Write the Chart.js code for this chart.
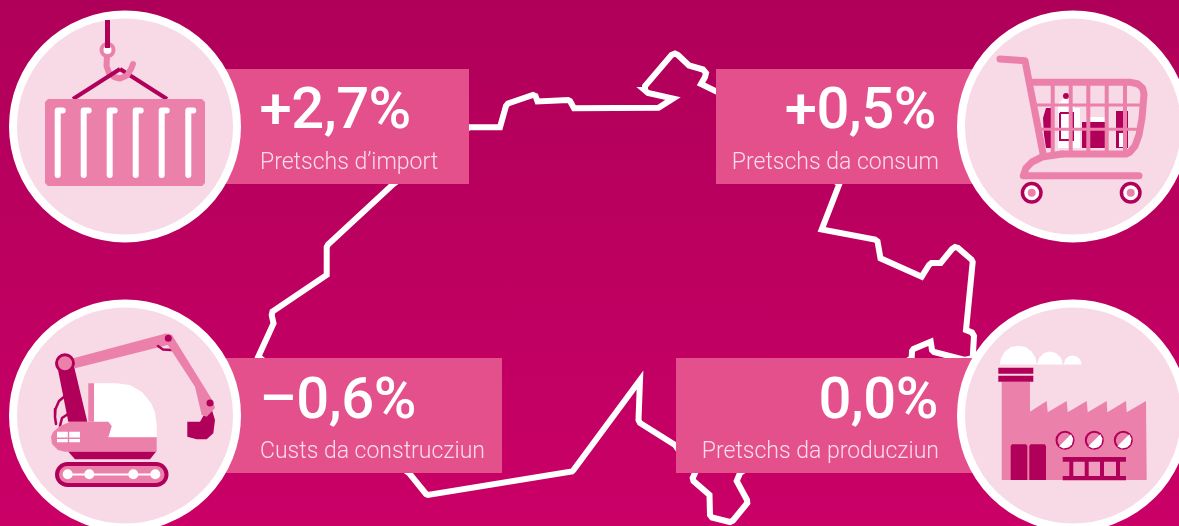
<!DOCTYPE html>
<html>
<head>
<meta charset="utf-8">
<title>Pretschs</title>
<script src="https://cdn.jsdelivr.net/npm/chart.js@4"></script>
<style>
  html, body { margin: 0; padding: 0; overflow: hidden; }
  body { width: 1179px; height: 526px; background: linear-gradient(180deg, #af0059 0%, #ca0067 100%); }
  canvas { display: block; }
</style>
</head>
<body>
<canvas id="myChart" width="1179" height="526"></canvas>
<script>
const valueLabels = ["+2,7%", "+0,5%", "\u20130,6%", "0,0%"];
const categoryLabels = ["Pretschs d\u2019import", "Pretschs da consum", "Custs da construcziun", "Pretschs da producziun"];

// map outline, it runs on under the boxes
const outlinePoints = [
  [469, 127.3], [500, 127.3], [506, 106], [508, 103.5], [533, 95], [535.5, 96], [537.5, 101.5], [568, 100], [570, 101], [574, 108.3],
  [658.5, 107.7], [673, 98.5], [648, 93], [644.5, 90], [645, 86], [671.5, 55], [675, 53.5], [678, 55], [689, 65.5],
  [703, 69.5], [706, 73], [705, 77], [701, 84], [717, 91.7], [839.3, 184], [821.7, 229.5], [875, 239.5], [877.5, 241.5],
  [880.5, 258.3], [921.7, 276.7], [929, 265], [931.5, 263], [940.7, 263], [952, 249], [955, 247], [958, 248], [971.5, 259.5], [972.7, 262],
  [966, 330], [972, 332.5], [974, 336], [972.7, 358], [965, 360], [934, 352], [932, 350], [930.7, 341.7], [913.5, 349], [912, 351], [911.7, 358],
  [740, 473], [736.7, 481], [747, 500], [747.3, 503], [733, 520.5], [730, 522], [712, 517.5], [710, 515], [709.5, 495], [693.5, 481], [692.7, 478], [695, 473],
  [675, 445], [640, 423], [638.5, 420], [640, 380], [573.5, 470], [572, 471.5], [428, 495], [426, 494], [409.3, 473.3],
  [258.3, 356.7], [273.5, 323.5], [271.7, 315], [272.5, 311.5], [326.7, 275], [326.7, 247], [328, 244.5], [393.3, 184], [469, 127.3]
];

const boxTL = [[225, 69], [469, 69], [469, 184], [225, 184]];
const boxTR = [[716, 69], [990, 69], [990, 184], [716, 184]];
const boxBL = [[225, 358], [502, 358], [502, 473], [225, 473]];
const boxBR = [[676, 358], [990, 358], [990, 473], [676, 473]];
const circleCenters = [[125, 126.5], [1073, 126.5], [125, 415.5], [1073, 415.5]];

// container
const hookCable = [[107.5, 20], [107.5, 47]];
const ropeRight = [[120, 69], [167, 99]];
const ropeLeft = [[73, 99], [120, 69]];
const hookCurve = [[107, 56], [106.5, 66], [109, 73], [114, 77], [120, 78.5], [127, 75.5], [131, 69], [133, 64]];
const containerBody = [[48, 99], [202, 99], [205, 102], [205, 183], [202, 186], [48, 186], [45, 183], [45, 102]];
const containerSlots = [57.7, 83.7, 109.7, 135.7, 161.7, 188.3];

// cart
const cartHandle = [[1000, 59], [1025, 60.7], [1043.3, 155]];
const cartBasket = [[1031.7, 82.3], [1131, 82.3], [1138, 84], [1142.5, 88], [1144, 94], [1142, 118], [1139, 135], [1135, 146], [1130, 152], [1126, 154], [1062, 154]];
const cartBase = [[1139, 175.7], [1023.3, 175.7], [1026, 168], [1032, 162], [1042, 157], [1062, 154]];
const cartMeshX = [1052.7, 1070.7, 1088.3, 1106.7, 1125];
const cartMeshY = [105, 129.3];
const cartMeshEnds = [[1036, 1143], [1040, 1141]];
const cartWheels = [[1031.7, 192.7], [1130.7, 192.7]];
const goodsDark = [
  [[1046, 108], [1052, 108], [1052, 148], [1046, 148], [1044, 135], [1043, 118]],
  [[1082, 122], [1105, 122], [1105, 148], [1082, 148]],
  [[1116, 111], [1128, 111], [1128, 148], [1116, 148]]
];
const goodsWhite = [
  [[1058, 104], [1064, 98], [1070, 98], [1075, 108], [1080, 108], [1080, 148], [1058, 148]],
  [[1086, 117], [1105, 117], [1105, 122], [1086, 122]],
  [[1119, 133], [1125, 133], [1125, 147], [1119, 147]]
];
const bottleLabel = [[1060, 113], [1073, 113], [1073, 140], [1060, 140], [1060, 113]];
const bottleCap = [[1066, 96]];

// excavator
const boomArm = [[73.3, 358.3], [166.7, 333.3], [171.7, 344], [75, 368.3]];
const stickArm = [[165, 336.7], [168, 333.5], [172, 335], [213.3, 401.7], [215, 408], [206.7, 416.7], [201.7, 415], [195, 386.7], [166.7, 343.3]];
const elbowArc = [[158, 346], [163, 349.5], [171.5, 350]];
const bucketShape = [[187.3, 421.7], [200, 421.7], [203.3, 416], [211.7, 409.3], [215, 420], [213.3, 433.3], [206.7, 439.3], [196.7, 439.3], [187.3, 436.7]];
const mastShape = [[56.7, 363.3], [73.3, 363.3], [87.3, 421.7], [68.3, 421.7]];
const hoseOuter = [[65, 396], [59, 401], [55.5, 409], [55, 417], [56, 424]];
const hoseInner = [[68, 414], [62, 418], [60, 426]];
const cabPost = [[88.3, 383.3], [94, 383.3], [94, 421.7], [88.3, 421.7]];
const cabShape = [[94, 383.3], [116.7, 383.3], [130, 385], [142, 392], [151, 403], [155, 412], [156.7, 425], [156.7, 437.3], [108.3, 437.3], [111.7, 426.7], [108, 421.7], [94, 421.7]];
const bodyShape = [[70, 422], [108.3, 421.7], [111.7, 426], [108.3, 437.3], [156.7, 437.3], [156.7, 451.7], [65, 451.7], [58, 450], [52, 444], [51, 437], [53, 432], [60, 426]];
const bodyWindows = [
  [[57, 431.7], [67.8, 431.7], [67.8, 437.4], [57, 437.4]],
  [[69.2, 431.7], [80, 431.7], [80, 437.4], [69.2, 437.4]],
  [[57, 439], [67.8, 439], [67.8, 442.3], [57, 442.3]],
  [[69.2, 439], [80, 439], [80, 442.3], [69.2, 442.3]]
];
const baseShape = [[68.3, 451.7], [156, 451.7], [150, 459.3], [75, 459.3]];
const trackLine = [[67.5, 474.5], [156, 474.5]];
const trackRollers = [[67.7, 474.3], [89.3, 474.3], [133.3, 474.3], [155.3, 474.3]];
const boomPins = [[168.3, 338.3], [210, 403]];

// factory
const factoryShape = [
  [1001.7, 381.7], [1030, 381.7], [1030, 411.7], [1046.7, 401], [1047.7, 412.3], [1066.7, 401], [1067.7, 412.3], [1086.7, 401], [1087.7, 412.3],
  [1106.7, 401], [1107.3, 412.3], [1126, 401], [1126.7, 412.3], [1146, 401], [1146.7, 480], [1001.7, 480]
];
const chimneyRings = [
  [[998.3, 367.7], [1033.3, 367.7], [1033.3, 373.7], [998.3, 373.7]],
  [[998.3, 375.7], [1033.3, 375.7], [1033.3, 381.7], [998.3, 381.7]]
];
const clouds = [
  [[999.8, 364.5], [1001, 358], [1005, 351.5], [1011, 347], [1018.3, 345.8], [1025.5, 347], [1031.6, 351.5], [1035.6, 358], [1036.8, 364.5]],
  [[1037, 364.5], [1039, 358], [1044, 353], [1050, 351.5], [1056, 353], [1061, 358], [1063, 364.5]],
  [[1063.7, 364.5], [1065.5, 359], [1069, 356.2], [1072.7, 355.5], [1076.4, 356.2], [1080, 359], [1081.7, 364.5]]
];
const factoryDoors = [
  [[1012, 444.3], [1026, 444.3], [1027.3, 446], [1027.3, 480], [1010.7, 480], [1010.7, 446]],
  [[1030.6, 444.3], [1044.7, 444.3], [1046, 446], [1046, 480], [1029.3, 480], [1029.3, 446]]
];
const portholes = [[1065, 440.3], [1094.3, 440.3], [1123.3, 440.3]];
const portholeWedge = [[6, -6], [8.2, -1.5], [7, 4], [4, 7], [-1.5, 8.2], [-6, 6]];
const ladderCells = [[1070, 461], [1120, 461], [1120, 476], [1070, 476]];
const ladderBars = [
  [[1062.7, 457], [1126, 457], [1126, 461.7], [1062.7, 461.7]],
  [[1062.7, 476], [1126, 476], [1126, 480.3], [1062.7, 480.3]],
  [[1069.3, 461], [1073.3, 461], [1073.3, 476], [1069.3, 476]],
  [[1084.7, 461], [1088.7, 461], [1088.7, 476], [1084.7, 476]],
  [[1100, 461], [1104, 461], [1104, 476], [1100, 476]],
  [[1116, 461], [1120, 461], [1120, 476], [1116, 476]]
];

const labelAnchors = [
  { x: 259.5, xLabel: 260, y: 128.3, yLabel: 169, align: "left" },
  { x: 936, xLabel: 939, y: 128.3, yLabel: 169, align: "right" },
  { x: 259.5, xLabel: 260, y: 418, yLabel: 457.8, align: "left" },
  { x: 938, xLabel: 939, y: 418, yLabel: 457.8, align: "right" }
];

const WHITE = "#ffffff";
const DARK = "#b0005a";
const PINK = "#eb80ab";
const BOX = "#e4508c";
const DISC = "#f8d9e6";

const datasets = [];

function toXY(points) {
  return points.map((p) => ({ x: p[0], y: p[1] }));
}

function addDataset(points, style) {
  datasets.push({
    data: toXY(points),
    showLine: false,
    pointRadius: 0,
    pointHoverRadius: 0,
    tension: 0,
    order: -datasets.length,
    ...style,
  });
}

function addShape(points, color) {
  addDataset(points, { showLine: true, fill: "shape", borderWidth: 0, backgroundColor: color });
}

function addLine(points, color, width, cap) {
  addDataset(points, {
    showLine: true,
    fill: false,
    borderColor: color,
    borderWidth: width,
    borderCapStyle: cap || "round",
    borderJoinStyle: cap ? "miter" : "round",
  });
}

function addDots(points, color, radius, edgeColor, edgeWidth) {
  addDataset(points, {
    pointStyle: "circle",
    pointRadius: radius,
    pointHoverRadius: radius,
    pointBackgroundColor: color,
    pointBorderColor: edgeColor || color,
    pointBorderWidth: edgeWidth || 0,
  });
}

addLine(outlinePoints, WHITE, 6, "butt");
[boxTL, boxTR, boxBL, boxBR].forEach((box) => addShape(box, BOX));
addDots(circleCenters, DISC, 112, WHITE, 8);

// container icon
addLine(hookCable, DARK, 5, "butt");
addLine(ropeRight, DARK, 4, "butt");
addLine(hookCurve, PINK, 6);
addLine(ropeLeft, DARK, 4, "butt");
addDots([[107.5, 50]], WHITE, 6, PINK, 4);
addLine([[107.5, 42], [107.5, 48]], DARK, 5, "butt");
addShape(containerBody, PINK);
containerSlots.forEach((x) => {
  addLine([[x, 175], [x, 110.5], [x + 5, 110.5]], WHITE, 6);
});

// cart icon
goodsDark.forEach((shape) => addShape(shape, DARK));
goodsWhite.forEach((shape) => addShape(shape, WHITE));
addLine(bottleLabel, DARK, 2, "butt");
addDots(bottleCap, DARK, 3);
cartMeshX.forEach((x) => addLine([[x, 82], [x, 154]], PINK, 4, "butt"));
cartMeshY.forEach((y, i) => addLine([[cartMeshEnds[i][0], y], [cartMeshEnds[i][1], y]], PINK, 3, "butt"));
addLine(cartHandle, PINK, 7);
addLine(cartBasket, PINK, 7);
addLine(cartBase, PINK, 7);
addDots(cartWheels, DARK, 11);
addDots(cartWheels, WHITE, 7.5);
addDots(cartWheels, PINK, 4);

// excavator icon
addLine(hoseOuter, DARK, 2.5);
addLine(hoseInner, DARK, 2.5);
addShape(boomArm, PINK);
addLine(elbowArc, DARK, 2.5);
addShape(bucketShape, DARK);
addShape(stickArm, PINK);
addDots(boomPins, DARK, 3.5);
addShape(mastShape, DARK);
addDots([[65, 363.3]], PINK, 8.5, DARK, 3);
addShape(cabShape, WHITE);
addShape(cabPost, PINK);
addShape(bodyShape, PINK);
bodyWindows.forEach((shape) => addShape(shape, WHITE));
addShape(baseShape, DARK);
addLine(trackLine, DARK, 25);
addLine(trackLine, PINK, 17);
addLine(trackLine, WHITE, 2, "butt");
addDots(trackRollers, WHITE, 5);

// factory icon
clouds.forEach((shape) => addShape(shape, WHITE));
addShape(factoryShape, PINK);
chimneyRings.forEach((shape) => addShape(shape, DARK));
factoryDoors.forEach((shape) => addShape(shape, DARK));
addDots(portholes, PINK, 8.5, DARK, 2);
portholes.forEach((c) => {
  addShape(portholeWedge.map((o) => [c[0] + o[0], c[1] + o[1]]), WHITE);
});
addShape(ladderCells, "#f19bbe");
ladderBars.forEach((shape) => addShape(shape, DARK));

const textPlugin = {
  id: "boxTexts",
  afterDatasetsDraw(chart) {
    const ctx = chart.ctx;
    const xs = chart.scales.x;
    const ys = chart.scales.y;
    ctx.save();
    ctx.textBaseline = "alphabetic";
    labelAnchors.forEach((a, i) => {
      ctx.textAlign = a.align;
      ctx.fillStyle = WHITE;
      ctx.letterSpacing = "-0.5px";
      ctx.font = "500 58px Roboto";
      ctx.fillText(valueLabels[i], xs.getPixelForValue(a.x), ys.getPixelForValue(a.y));
      ctx.fillStyle = "#fbdde9";
      ctx.letterSpacing = "0px";
      ctx.font = "300 23px Roboto";
      ctx.fillText(categoryLabels[i], xs.getPixelForValue(a.xLabel), ys.getPixelForValue(a.yLabel));
    });
    ctx.restore();
  },
};

new Chart(document.getElementById("myChart").getContext("2d"), {
  type: "scatter",
  data: { datasets: datasets },
  options: {
    responsive: false,
    animation: false,
    events: [],
    layout: { padding: 0, autoPadding: false },
    plugins: { legend: { display: false }, tooltip: { enabled: false } },
    scales: {
      x: { type: "linear", min: 0, max: 1179, display: false },
      y: { type: "linear", min: 0, max: 526, reverse: true, display: false },
    },
  },
  plugins: [textPlugin],
});
</script>
</body>
</html>
